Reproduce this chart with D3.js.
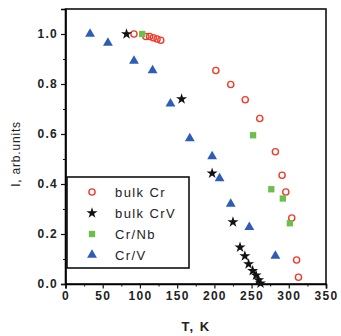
<!DOCTYPE html>
<html>
<head>
<meta charset="utf-8">
<script src="https://cdn.jsdelivr.net/npm/d3@7"></script>
<style>
  body { margin: 0; background: #fff; }
  text { font-family: "Liberation Sans", Arial, sans-serif; fill: #222; }
</style>
</head>
<body>
<svg width="341" height="336"></svg>
<script>
const svg = d3.select('svg');

// data
const bulkCr = [[92,1.0],[108,0.99],[113,0.99],[118,0.985],[123,0.98],[128,0.975],
  [202,0.854],[222,0.798],[241.5,0.737],[261,0.662],[282,0.529],[291,0.435],
  [296,0.368],[304,0.264],[310.5,0.096],[313,0.027]];
const bulkCrV = [[82,1.0],[156,0.74],[197,0.443],[225,0.248],[234.5,0.147],[241,0.112],
  [246,0.08],[251.5,0.053],[256,0.035],[259.5,0.016],[262,0.003]];
const crNb = [[103,1.0],[252,0.595],[276.5,0.379],[292,0.342],[301.5,0.243]];
const crV = [[33,1.0],[57,0.964],[92,0.892],[117,0.854],[141,0.721],[167,0.582],
  [197,0.51],[207,0.422],[222,0.32],[247,0.227],[282,0.112]];

const xTicks = [0,50,100,150,200,250,300,350];
const yTicks = [0,0.2,0.4,0.6,0.8,1.0];

const series = [
  {name: 'bulk Cr',  data: bulkCr,  type: d3.symbolCircle,   size: 30, fill: 'none',    stroke: '#f03a2a'},
  {name: 'bulk CrV', data: bulkCrV, type: d3.symbolStar,     size: 38, fill: '#111',    stroke: 'none'},
  {name: 'Cr/Nb',    data: crNb,    type: d3.symbolSquare,   size: 40, fill: '#6cbf4a', stroke: 'none'},
  {name: 'Cr/V',     data: crV,     type: d3.symbolTriangle, size: 42, fill: '#2e5cb8', stroke: 'none'}
];

const x = d3.scaleLinear().domain([0, 350]).range([65.5, 326]);
const y = d3.scaleLinear().domain([0, 1.1]).range([284, 9]);

// frame
svg.append('rect')
  .attr('x', x(0)).attr('y', y(1.1))
  .attr('width', x(350) - x(0)).attr('height', y(0) - y(1.1))
  .attr('fill', 'none').attr('stroke', '#111').attr('stroke-width', 1.6);

// minor ticks
svg.append('g').attr('transform', `translate(0,${y(0)})`)
  .call(d3.axisBottom(x).tickValues(d3.range(25, 350, 50)).tickSize(2.5).tickFormat(''))
  .call(g => g.select('.domain').remove());
svg.append('g').attr('transform', `translate(${x(0)},0)`)
  .call(d3.axisLeft(y).tickValues(d3.range(0.1, 1.1, 0.2)).tickSize(2.5).tickFormat(''))
  .call(g => g.select('.domain').remove());

// major axes
const xAxis = svg.append('g').attr('transform', `translate(0,${y(0)})`)
  .call(d3.axisBottom(x).tickValues(xTicks).tickSize(4.5).tickPadding(3).tickFormat(d3.format('d')));
const yAxis = svg.append('g').attr('transform', `translate(${x(0)},0)`)
  .call(d3.axisLeft(y).tickValues(yTicks).tickSize(4.5).tickPadding(3).tickFormat(d3.format('.1f')));
[xAxis, yAxis].forEach(a => {
  a.select('.domain').attr('stroke-width', 1.6);
  a.selectAll('.tick line').attr('stroke-width', 1.2);
  a.selectAll('text').style('font-size', '12px').style('letter-spacing', '1.3px').style('font-weight', 'bold').attr('fill', '#333');
});
svg.selectAll('.tick line').attr('stroke', '#111');

// axis titles
svg.append('text')
  .attr('x', 196).attr('y', 331)
  .attr('text-anchor', 'middle')
  .style('font-size', '13px').style('font-weight', 'bold').style('letter-spacing', '1.5px')
  .attr('fill', '#333')
  .text('T, K');
svg.append('text')
  .attr('transform', 'translate(20,154) rotate(-90)')
  .attr('text-anchor', 'middle')
  .style('font-size', '12px').style('letter-spacing', '0.8px')
  .attr('fill', '#333')
  .text('I, arb.units');

// points
series.forEach(s => {
  svg.append('g').selectAll('path').data(s.data)
    .enter().append('path')
      .attr('transform', d => `translate(${x(d[0])},${y(d[1])})`)
      .attr('d', d3.symbol().type(s.type).size(s.size))
      .attr('fill', s.fill)
      .attr('stroke', s.stroke)
      .attr('stroke-width', 1.4);
});

// legend
const legend = svg.append('g');
legend.append('rect')
  .attr('x', 67).attr('y', 177).attr('width', 122).attr('height', 91)
  .attr('fill', '#fff').attr('stroke', '#111').attr('stroke-width', 1.6);
series.forEach((s, i) => {
  const ly = 192 + i * 21;
  legend.append('path')
    .attr('transform', `translate(92,${ly})`)
    .attr('d', d3.symbol().type(s.type).size(s.size))
    .attr('fill', s.fill).attr('stroke', s.stroke).attr('stroke-width', 1.4);
  legend.append('text')
    .attr('x', 115).attr('y', ly + 4.5)
    .style('font-size', '13px').style('letter-spacing', '1.4px')
    .attr('fill', '#222')
    .text(s.name);
});
</script>
</body>
</html>
